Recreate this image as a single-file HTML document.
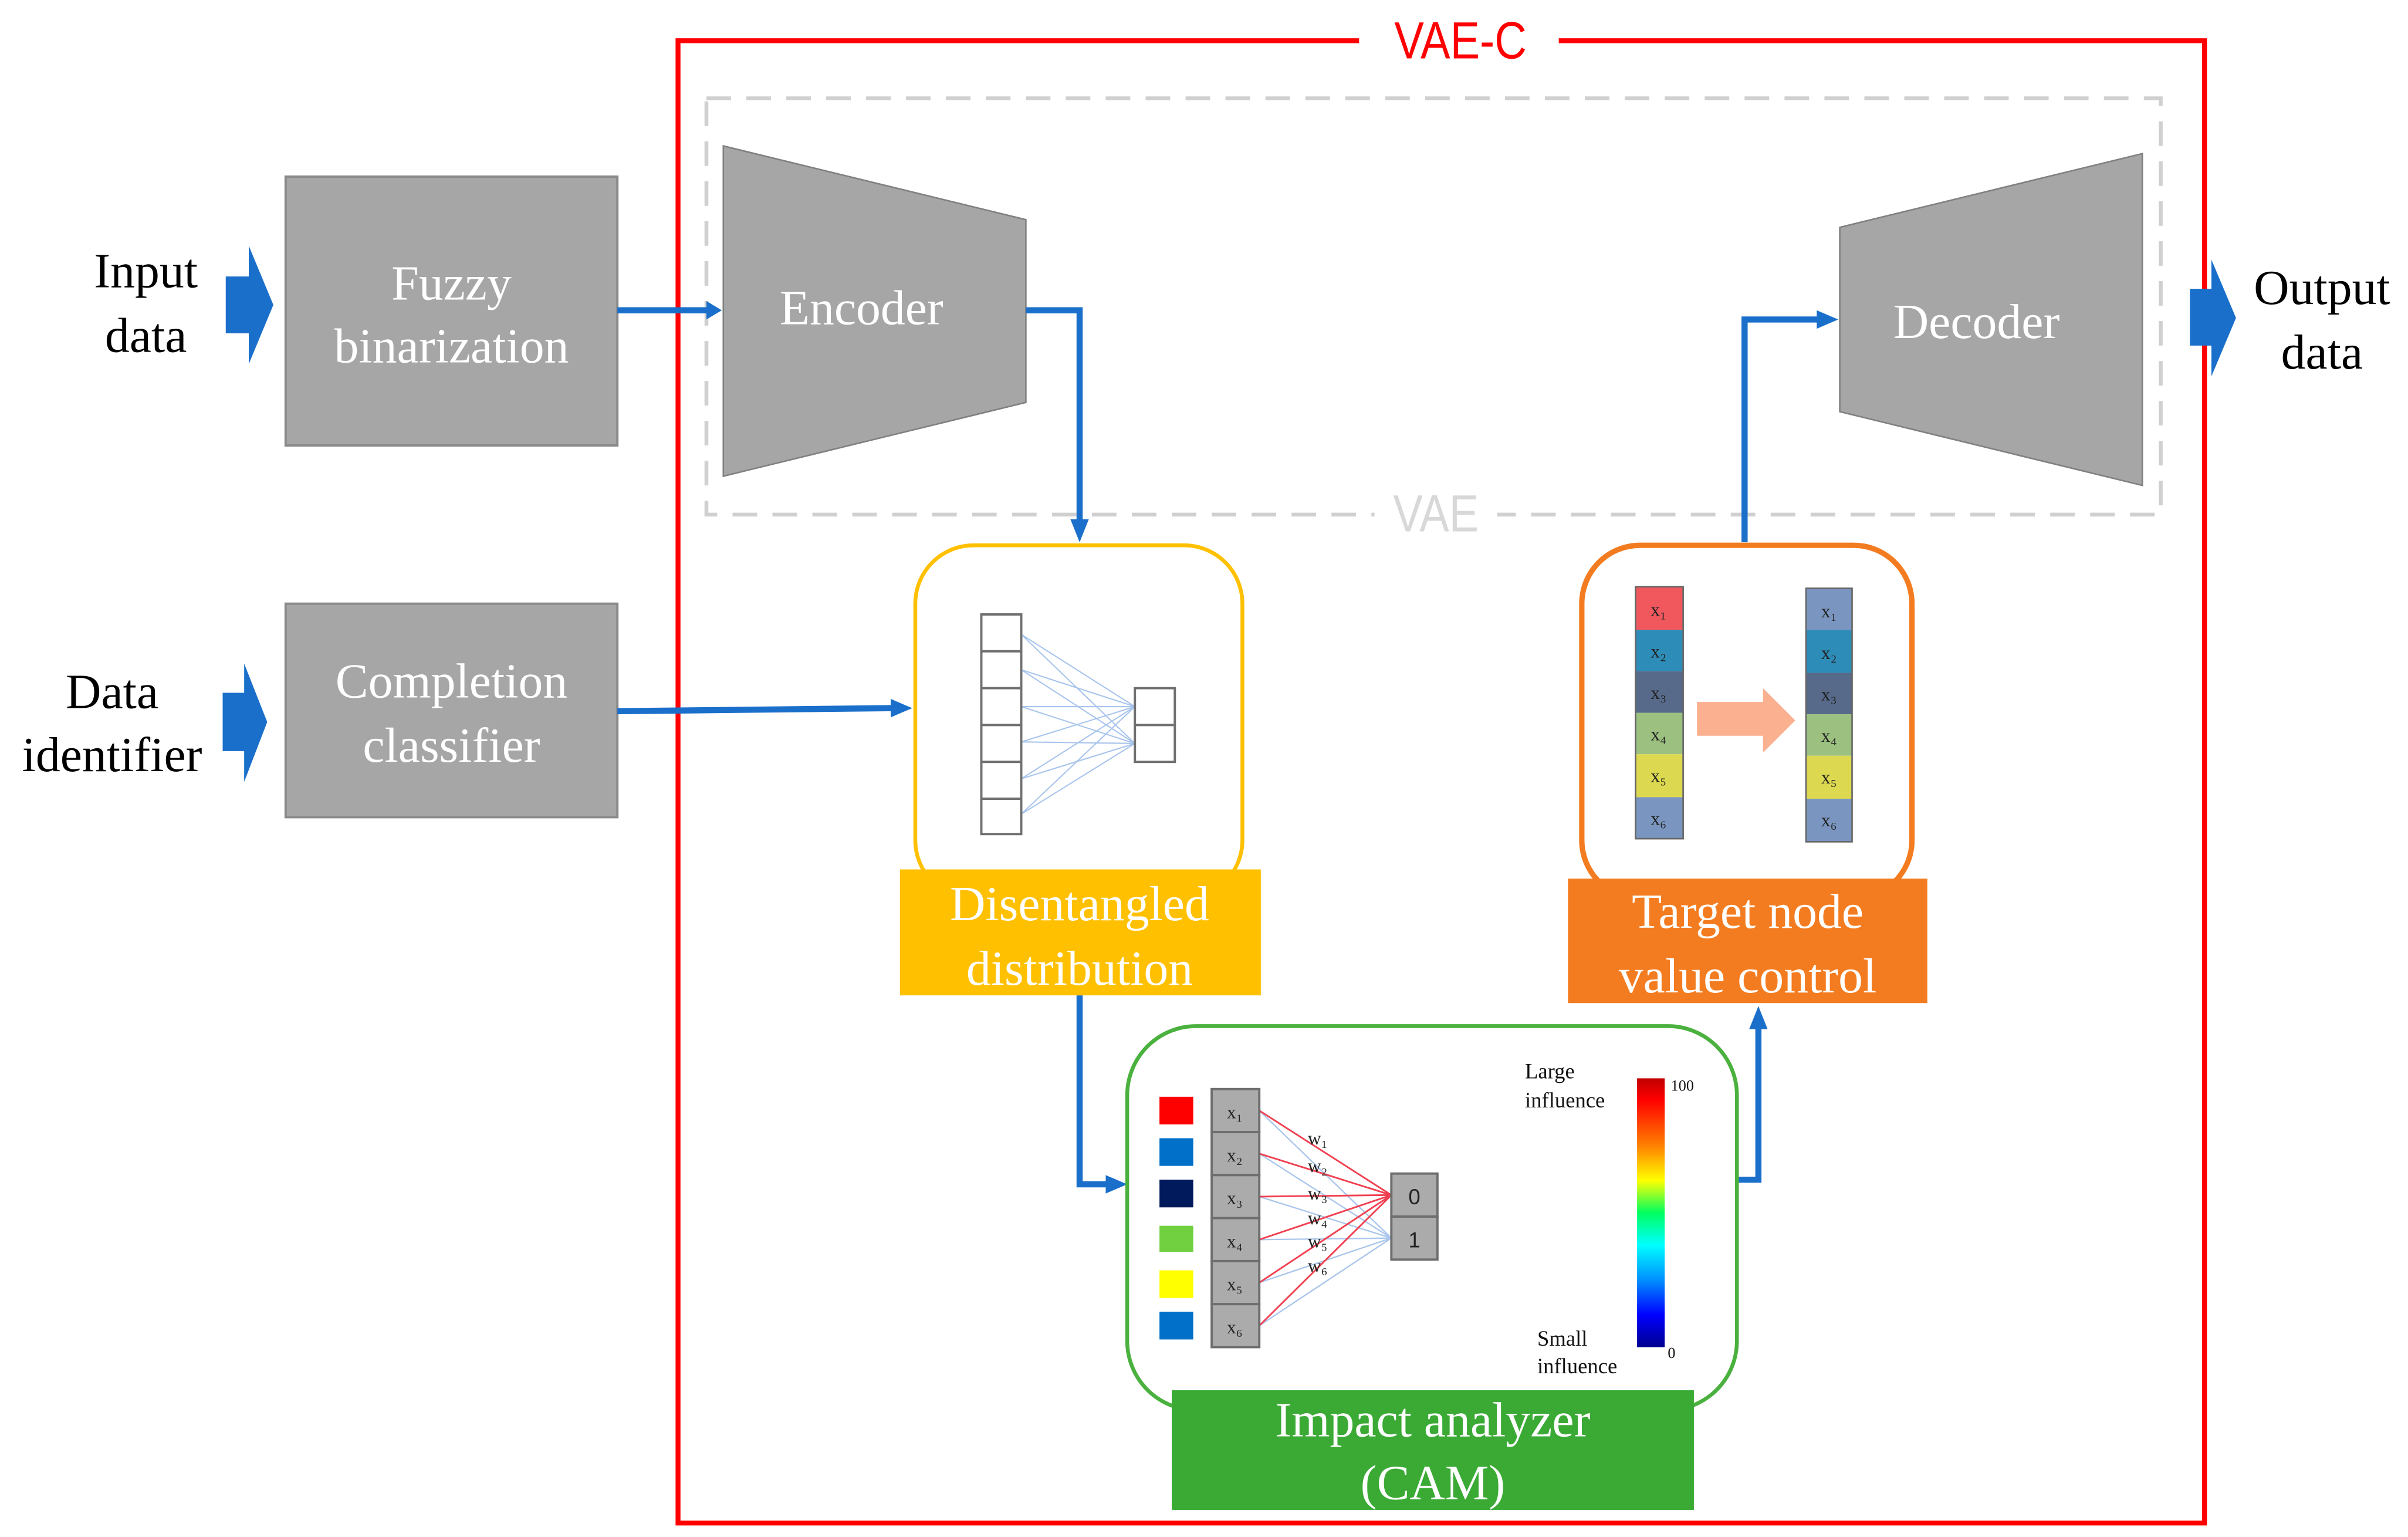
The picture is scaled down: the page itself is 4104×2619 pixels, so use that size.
<!DOCTYPE html>
<html><head><meta charset="utf-8"><style>html,body{margin:0;padding:0;background:#fff}svg{display:block}</style></head>
<body>
<svg width="4104" height="2619" viewBox="0 0 1568 1000.6" preserveAspectRatio="none" xmlns="http://www.w3.org/2000/svg">
<defs>
<linearGradient id="cb" x1="0" y1="0" x2="0" y2="1">
<stop offset="0" stop-color="#c00000"/><stop offset="0.08" stop-color="#ff0000"/><stop offset="0.25" stop-color="#ff8000"/><stop offset="0.38" stop-color="#ffff00"/><stop offset="0.5" stop-color="#00ff60"/><stop offset="0.62" stop-color="#00ffff"/><stop offset="0.75" stop-color="#0090ff"/><stop offset="0.88" stop-color="#0000ff"/><stop offset="1" stop-color="#000090"/>
</linearGradient>
</defs>
<g font-family="Liberation Serif, serif">
<!-- red VAE-C box -->
<rect x="441.5" y="26.5" width="994" height="965" fill="none" stroke="#ff0000" stroke-width="3.2"/>
<rect x="885" y="10" width="130" height="30" fill="#fff"/>
<text x="951" y="38" font-family="Liberation Sans, sans-serif" font-size="34" fill="#ff0000" text-anchor="middle" transform="translate(951 0) scale(0.85 1) translate(-951 0)">VAE-C</text>
<!-- VAE dashed -->
<rect x="460" y="64" width="947" height="271" fill="none" stroke="#d0d0d0" stroke-width="2.5" stroke-dasharray="16 10"/>
<rect x="895" y="318" width="80" height="34" fill="#fff"/>
<text x="935" y="346" font-family="Liberation Sans, sans-serif" font-size="34" fill="#d8d8d8" text-anchor="middle" transform="translate(935 0) scale(0.85 1) translate(-935 0)">VAE</text>

<!-- left inputs -->
<text x="95" y="187" font-size="32" text-anchor="middle">Input</text>
<text x="95" y="229" font-size="32" text-anchor="middle">data</text>
<polygon points="147,180 162,180 162,160 178,198.5 162,237 162,217 147,217" fill="#1a6fca"/>
<text x="73" y="461" font-size="32" text-anchor="middle">Data</text>
<text x="73" y="502" font-size="32" text-anchor="middle">identifier</text>
<polygon points="145,451 159,451 159,432 174,470 159,509 159,489 145,489" fill="#1a6fca"/>

<rect x="186" y="115" width="216" height="175" fill="#a6a6a6" stroke="#8a8a8a" stroke-width="1.5"/>
<text x="294" y="195" font-size="32" fill="#fff" text-anchor="middle">Fuzzy</text>
<text x="294" y="236" font-size="32" fill="#fff" text-anchor="middle">binarization</text>
<rect x="186" y="393" width="216" height="139" fill="#a6a6a6" stroke="#8a8a8a" stroke-width="1.5"/>
<text x="294" y="454" font-size="32" fill="#fff" text-anchor="middle">Completion</text>
<text x="294" y="496" font-size="32" fill="#fff" text-anchor="middle">classifier</text>

<!-- encoder/decoder -->
<polygon points="471,95 668,143 668,262 471,310" fill="#a6a6a6" stroke="#808080" stroke-width="1"/>
<text x="561" y="211" font-size="32" fill="#fff" text-anchor="middle">Encoder</text>
<polygon points="1198,148 1395,100 1395,316 1198,268" fill="#a6a6a6" stroke="#808080" stroke-width="1"/>
<text x="1287" y="220" font-size="32" fill="#fff" text-anchor="middle">Decoder</text>
<polygon points="1426,188 1440,188 1440,169 1456,207 1440,245 1440,225 1426,225" fill="#1a6fca"/>
<text x="1512" y="198" font-size="32" text-anchor="middle">Output</text>
<text x="1512" y="240" font-size="32" text-anchor="middle">data</text>

<!-- connectors -->
<g stroke="#1a6fca" stroke-width="4" fill="none">
<path d="M402,202 H462"/>
<path d="M668,202 H703 V340"/>
<path d="M402,463 L582,461"/>
<path d="M703,648 V771 H722"/>
<path d="M1131,768 H1145 V668"/>
<path d="M1136,353 V208 H1184"/>
</g>
<g fill="#1a6fca">
<polygon points="470,202 460,196 460,208"/>
<polygon points="703,353 697,338 709,338"/>
<polygon points="594,461 580,455 580,467"/>
<polygon points="734,771 720,765 720,777"/>
<polygon points="1145,655 1139,670 1151,670"/>
<polygon points="1197,208 1183,202 1183,214"/>
</g>

<!-- disentangled -->
<rect x="596" y="355" width="213" height="230" rx="38" fill="#fff" stroke="#ffc000" stroke-width="2.5"/>
<g stroke="#a8c4ec" stroke-width="0.8">
<path d="M665,413 L739,460 M665,413 L739,484 M665,436 L739,460 M665,436 L739,484 M665,460 L739,460 M665,460 L739,484 M665,483 L739,460 M665,483 L739,484 M665,507 L739,460 M665,507 L739,484 M665,530 L739,460 M665,530 L739,484"/>
</g>
<g fill="#fff" stroke="#707070" stroke-width="1.5">
<rect x="639" y="400" width="26" height="24"/><rect x="639" y="424" width="26" height="24"/><rect x="639" y="448" width="26" height="24"/><rect x="639" y="472" width="26" height="24"/><rect x="639" y="496" width="26" height="24"/><rect x="639" y="520" width="26" height="23"/>
<rect x="739" y="448" width="26" height="24"/><rect x="739" y="472" width="26" height="24"/>
</g>
<rect x="586" y="566" width="235" height="82" fill="#ffc000"/>
<text x="703" y="599" font-size="32" fill="#fff" text-anchor="middle">Disentangled</text>
<text x="703" y="641" font-size="32" fill="#fff" text-anchor="middle">distribution</text>

<!-- target node -->
<rect x="1030" y="355" width="215" height="230" rx="38" fill="#fff" stroke="#f47c20" stroke-width="3.5"/>
<g font-size="12" fill="#222" text-anchor="middle">
<rect x="1065" y="382" width="31" height="28" fill="#f0585e"/><rect x="1065" y="410" width="31" height="27" fill="#2e8cb8"/><rect x="1065" y="437" width="31" height="27" fill="#586a8a"/><rect x="1065" y="464" width="31" height="27" fill="#9cc080"/><rect x="1065" y="491" width="31" height="28" fill="#dcd850"/><rect x="1065" y="519" width="31" height="27" fill="#7a96c0"/>
<rect x="1065" y="382" width="31" height="164" fill="none" stroke="#666" stroke-width="1"/>
<text x="1080" y="401">x₁</text><text x="1080" y="428">x₂</text><text x="1080" y="455">x₃</text><text x="1080" y="482">x₄</text><text x="1080" y="509">x₅</text><text x="1080" y="537">x₆</text>
<rect x="1176" y="383" width="30" height="27" fill="#7a96c0"/><rect x="1176" y="410" width="30" height="28" fill="#2e8cb8"/><rect x="1176" y="438" width="30" height="27" fill="#586a8a"/><rect x="1176" y="465" width="30" height="27" fill="#9cc080"/><rect x="1176" y="492" width="30" height="28" fill="#dcd850"/><rect x="1176" y="520" width="30" height="28" fill="#7a96c0"/>
<rect x="1176" y="383" width="30" height="165" fill="none" stroke="#666" stroke-width="1"/>
<text x="1191" y="402">x₁</text><text x="1191" y="429">x₂</text><text x="1191" y="456">x₃</text><text x="1191" y="483">x₄</text><text x="1191" y="510">x₅</text><text x="1191" y="538">x₆</text>
</g>
<polygon points="1105,457 1148,457 1148,448 1169,469 1148,490 1148,479 1105,479" fill="#fbb090"/>
<rect x="1021" y="572" width="234" height="81" fill="#f47c20"/>
<text x="1138" y="604" font-size="32" fill="#fff" text-anchor="middle">Target node</text>
<text x="1138" y="646" font-size="32" fill="#fff" text-anchor="middle">value control</text>

<!-- impact analyzer -->
<rect x="734" y="668" width="397" height="250" rx="45" fill="#fff" stroke="#4ab13e" stroke-width="2.5"/>
<rect x="755" y="714" width="22" height="18" fill="#ff0000"/>
<rect x="755" y="741" width="22" height="18" fill="#0070c8"/>
<rect x="755" y="768" width="22" height="18" fill="#001a5c"/>
<rect x="755" y="798" width="22" height="17" fill="#70d040"/>
<rect x="755" y="827" width="22" height="18" fill="#ffff00"/>
<rect x="755" y="854" width="22" height="18" fill="#0070c8"/>
<g stroke="#aac6ec" stroke-width="0.9">
<path d="M820,723 L906,806 M820,751 L906,806 M820,779 L906,806 M820,807 L906,806 M820,835 L906,806 M820,863 L906,806"/>
</g>
<g stroke="#f04050" stroke-width="1.1">
<path d="M820,723 L906,778 M820,751 L906,778 M820,779 L906,778 M820,807 L906,778 M820,835 L906,778 M820,863 L906,778"/>
</g>
<g fill="#ababab" stroke="#6e6e6e" stroke-width="1.5" font-size="12" text-anchor="middle">
<rect x="789" y="709" width="31" height="28"/><rect x="789" y="737" width="31" height="28"/><rect x="789" y="765" width="31" height="28"/><rect x="789" y="793" width="31" height="28"/><rect x="789" y="821" width="31" height="28"/><rect x="789" y="849" width="31" height="28"/>
<rect x="906" y="764" width="30" height="28"/><rect x="906" y="792" width="30" height="28"/>
</g>
<g font-size="12" fill="#222" text-anchor="middle">
<text x="804" y="728">x₁</text><text x="804" y="756">x₂</text><text x="804" y="784">x₃</text><text x="804" y="812">x₄</text><text x="804" y="840">x₅</text><text x="804" y="868">x₆</text>
<text x="921" y="784" font-family="Liberation Sans, sans-serif" font-size="14">0</text><text x="921" y="812" font-family="Liberation Sans, sans-serif" font-size="14">1</text>
<text x="858" y="745">w₁</text><text x="858" y="763">w₂</text><text x="858" y="781">w₃</text><text x="858" y="797">w₄</text><text x="858" y="812">w₅</text><text x="858" y="828">w₆</text>
</g>
<text x="993" y="702" font-size="14" fill="#111">Large</text>
<text x="993" y="721" font-size="14" fill="#111">influence</text>
<text x="1001" y="876" font-size="14" fill="#111">Small</text>
<text x="1001" y="894" font-size="14" fill="#111">influence</text>
<rect x="1066" y="702" width="18" height="175" fill="url(#cb)"/>
<text x="1088" y="710" font-size="10" fill="#111">100</text>
<text x="1086" y="884" font-size="10" fill="#111">0</text>
<rect x="763" y="905" width="340" height="78" fill="#3aaa35"/>
<text x="933" y="935" font-size="32" fill="#fff" text-anchor="middle">Impact analyzer</text>
<text x="933" y="976" font-size="32" fill="#fff" text-anchor="middle">(CAM)</text>
</g>
</svg>
</body></html>
